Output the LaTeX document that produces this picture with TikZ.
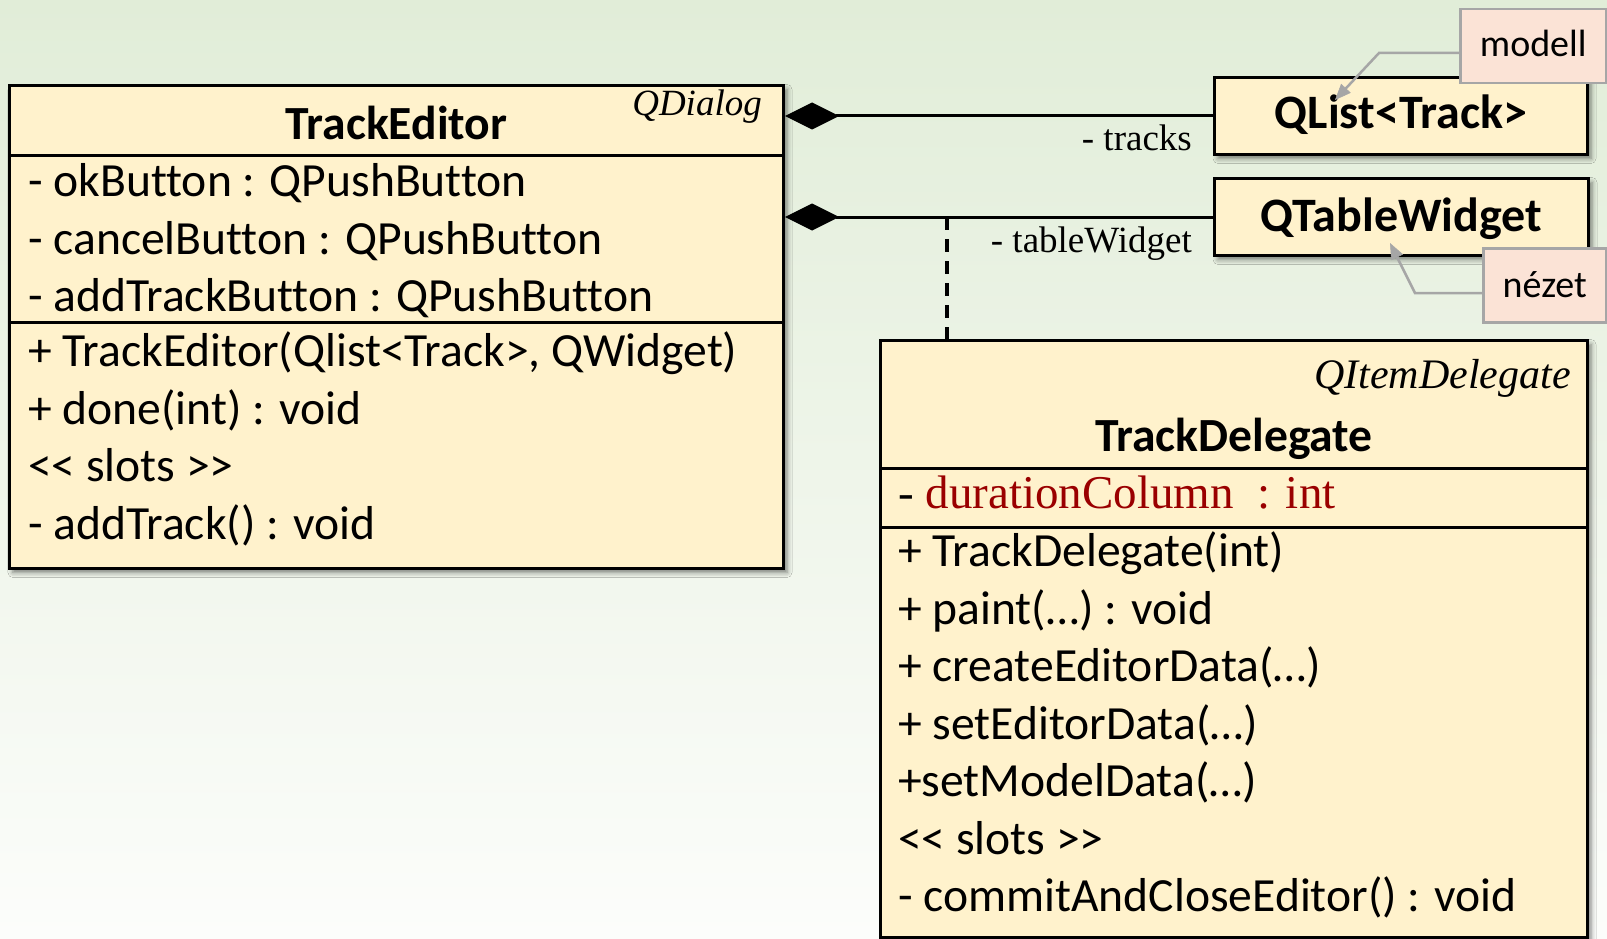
\documentclass[tikz,border=0pt]{standalone}
\usepackage{fontspec}
\setmainfont{Liberation Serif}
\setsansfont[Ligatures={NoCommon}]{Carlito}
\usetikzlibrary{arrows.meta,shadows.blur}

\definecolor{bgtop}{HTML}{E1EDD8}
\definecolor{bgbot}{HTML}{FCFDFB}
\definecolor{classfill}{HTML}{FFF2CC}
\definecolor{notefill}{HTML}{FBE3D6}
\definecolor{notedraw}{HTML}{A6A6A6}
\definecolor{attrred}{HTML}{9A0000}

\newcommand{\fsz}[1]{\fontsize{#1}{#1}\selectfont}

\tikzset{
  classbox/.style={draw=black, line width=3pt, fill=classfill, inner sep=0pt,
    anchor=north west,
    blur shadow={shadow xshift=3.5pt, shadow yshift=-4pt,
                 shadow blur radius=5pt, shadow opacity=50}},
  notebox/.style={draw=notedraw, line width=2.5pt, fill=notefill,
    inner sep=0pt, anchor=north west},
  member/.style={anchor=base west, inner sep=0pt, font=\sffamily\fsz{47.6}},
  classtitle/.style={anchor=base, inner sep=0pt, font=\sffamily\bfseries\fsz{47.6}},
  reftitle/.style={anchor=base, inner sep=0pt, font=\sffamily\bfseries\fsz{48}},
  stereo/.style={anchor=base east, inner sep=0pt, font=\itshape\fsz{#1}},
  rolelabel/.style={anchor=base east, inner sep=0pt, font=\fsz{37}},
  notetext/.style={anchor=base, inner sep=0pt, font=\sffamily\fsz{#1}},
  sepline/.style={line width=3pt},
  compline/.style={line width=3pt,
    {Diamond[length=54pt,width=27pt,line width=0.5pt]}-},
  depline/.style={line width=3.6pt, dash pattern=on 13pt off 9pt},
  notelink/.style={draw=notedraw, line width=2.5pt,
    -{Triangle[length=16pt,width=13pt,line width=0.5pt]}}
}

\begin{document}
\begin{tikzpicture}[x=1pt,y=-1pt]
  \useasboundingbox (0,0) rectangle (1607,939);
  \shade[top color=bgtop, bottom color=bgbot] (0,0) rectangle (1607,939);

  % ---- class TrackEditor ----
  \node[classbox, minimum width=774pt, minimum height=483pt] (te) at (8,84) {};
  \draw[sepline] (te.west |- 0,156) -- (te.east |- 0,156);
  \draw[sepline] (te.west |- 0,322) -- (te.east |- 0,322);
  \node[stereo=37] (te-st) at (762,116) {QDialog};
  \node[classtitle] (te-t) at (te.center |- 0,140) {TrackEditor};
  \node[member] (te-a1) at (28,196.5) {- okButton : QPushButton};
  \node[member] (te-a2) at (28,254)   {- cancelButton : QPushButton};
  \node[member] (te-a3) at (28,311.5) {- addTrackButton : QPushButton};
  \node[member] (te-m1) at (28,366.5) {+ TrackEditor(Qlist<Track>, QWidget)};
  \node[member] (te-m2) at (28,424)   {+ done(int) : void};
  \node[member] (te-m3) at (28,481.5) {<{}< slots >{}>};
  \node[member] (te-m4) at (28,539)   {- addTrack() : void};

  % ---- class TrackDelegate ----
  \node[classbox, minimum width=707pt, minimum height=597pt] (td) at (879,339) {};
  \draw[sepline] (td.west |- 0,468) -- (td.east |- 0,468);
  \draw[sepline] (td.west |- 0,527) -- (td.east |- 0,527);
  \node[stereo=42] (td-st) at (1571,388) {QItemDelegate};
  \node[classtitle] (td-t) at (td.center |- 0,451) {TrackDelegate};
  \node[anchor=base west, inner sep=0pt, font=\fsz{47}] (td-a1) at (898,508)
    {- \textcolor{attrred}{durationColumn~~: int}};
  \node[member] (td-m1) at (898,566.5) {+ TrackDelegate(int)};
  \node[member] (td-m2) at (898,624)   {+ paint(…) : void};
  \node[member] (td-m3) at (898,681.5) {+ createEditorData(…)};
  \node[member] (td-m4) at (898,739)   {+ setEditorData(…)};
  \node[member] (td-m5) at (898,796.5) {+setModelData(…)};
  \node[member] (td-m6) at (898,854)   {<{}< slots >{}>};
  \node[member] (td-m7) at (898,911.5) {- commitAndCloseEditor() : void};

  % ---- referenced classes ----
  \node[classbox, minimum width=373pt, minimum height=77pt] (ql) at (1213,76) {};
  \node[reftitle] (ql-t) at (ql.center |- 0,129) {QList<Track>};
  \node[classbox, minimum width=374pt, minimum height=77pt] (tw) at (1213,177) {};
  \node[reftitle] (tw-t) at (tw.center |- 0,231) {QTableWidget};

  % ---- compositions ----
  \draw[compline] (te.east |- ql.west) -- (ql.west);
  \draw[compline] (te.east |- tw.west) -- (tw.west);
  \node[rolelabel] (r1) at (1192,150) {- tracks};
  \node[rolelabel] (r2) at (1192,252) {- tableWidget};

  % ---- dependency of the delegate on the table widget ----
  \coordinate (dj) at (947,217);
  \draw[depline] (dj) -- (dj |- td.north);

  % ---- notes ----
  \node[notebox, minimum width=146pt, minimum height=74pt] (mn) at (1459,8) {};
  \node[notetext=38] (mn-t) at (mn.center |- 0,57) {modell};
  \node[notebox, minimum width=123pt, minimum height=74pt] (nz) at (1482,247) {};
  \node[notetext=38] (nz-t) at (nz.center |- 0,297) {nézet};

  \coordinate (mtip) at (1335,100);
  \coordinate (ntip) at (1390,243);
  \draw[notelink] (mn.west |- 0,53) -- (1379,53) -- (mtip);
  \draw[notelink] (nz.west |- 0,293) -- (1415,293) -- (ntip);
\end{tikzpicture}
\end{document}
